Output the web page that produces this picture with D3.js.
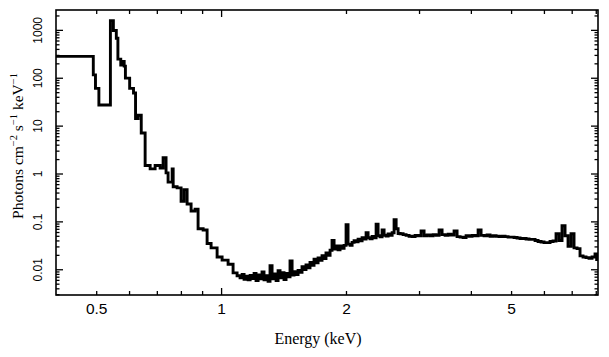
<!DOCTYPE html>
<html>
<head>
<meta charset="utf-8">
<script src="https://cdn.jsdelivr.net/npm/d3@7"></script>
<style>
  html, body { margin: 0; padding: 0; background: #fff; }
  svg { display: block; }
</style>
</head>
<body>
<svg id="chart" width="609" height="357"></svg>
<script>
// ---- Data ----
// Lower edge of each energy bin (keV)
const binLow = [
  0.400, 0.492, 0.498, 0.5075, 0.541, 0.550, 0.559, 0.564, 0.573, 0.578,
  0.584, 0.588, 0.602, 0.615, 0.622, 0.631, 0.642, 0.656, 0.6745, 0.6934,
  0.7129, 0.7248, 0.7368, 0.7451, 0.7622, 0.7665, 0.7834, 0.8009, 0.8144, 0.8281,
  0.8466, 0.8656, 0.8801, 0.9051, 0.9253, 0.946, 0.9781, 1.0056, 1.0396, 1.0688,
  1.0928, 1.111, 1.124, 1.136, 1.149, 1.162, 1.175, 1.188, 1.201, 1.214,
  1.228, 1.241, 1.255, 1.269, 1.283, 1.298, 1.312, 1.327, 1.342, 1.357,
  1.372, 1.387, 1.403, 1.418, 1.434, 1.450, 1.466, 1.483, 1.499, 1.516,
  1.533, 1.550, 1.567, 1.585, 1.602, 1.620, 1.638, 1.657, 1.675, 1.694,
  1.713, 1.732, 1.751, 1.771, 1.790, 1.810, 1.831, 1.851, 1.872, 1.893,
  1.914, 1.935, 1.957, 1.979, 2.001, 2.023, 2.046, 2.069, 2.092, 2.115,
  2.139, 2.163, 2.187, 2.211, 2.236, 2.261, 2.286, 2.312, 2.338, 2.364,
  2.390, 2.417, 2.444, 2.471, 2.499, 2.527, 2.555, 2.584, 2.612, 2.642,
  2.671, 2.701, 2.746, 2.792, 2.839, 2.886, 2.935, 2.984, 3.034, 3.085,
  3.137, 3.190, 3.243, 3.298, 3.353, 3.409, 3.467, 3.525, 3.584, 3.644,
  3.705, 3.768, 3.831, 3.895, 3.961, 4.027, 4.095, 4.164, 4.233, 4.304,
  4.377, 4.450, 4.525, 4.601, 4.678, 4.757, 4.836, 4.918, 5.000, 5.084,
  5.169, 5.256, 5.344, 5.434, 5.525, 5.618, 5.712, 5.808, 5.905, 6.004,
  6.105, 6.207, 6.311, 6.417, 6.525, 6.634, 6.746, 6.859, 6.974, 7.091,
  7.210, 7.331, 7.454, 7.579, 7.706, 7.836, 7.967, 8.040
];
// Photon flux in each bin (photons cm^-2 s^-1 keV^-1)
const flux = [
  280, 115, 60, 27, 1560, 970, 670, 245, 185, 220,
  175, 98, 60, 48, 14, 16.5, 7, 1.47, 1.25, 1.47,
  1.3, 2.13, 1.03, 0.66, 1.25, 0.53, 0.5, 0.264, 0.46, 0.23,
  0.165, 0.18, 0.07, 0.066, 0.0345, 0.028, 0.018, 0.0155, 0.0127, 0.0084,
  0.0073, 0.0066, 0.0078, 0.0062, 0.0072, 0.0060, 0.0074, 0.0064, 0.0082, 0.0058,
  0.0076, 0.0063, 0.0088, 0.0060, 0.0073, 0.0056, 0.0118, 0.0063, 0.0080, 0.0058,
  0.0093, 0.0066, 0.0085, 0.0061, 0.0082, 0.0070, 0.0150, 0.0076, 0.0089, 0.0078,
  0.0095, 0.0086, 0.0113, 0.0099, 0.0123, 0.0107, 0.0138, 0.0121, 0.0163, 0.0137,
  0.0173, 0.0154, 0.0193, 0.0168, 0.0218, 0.0196, 0.0250, 0.0400, 0.0265, 0.0305,
  0.0255, 0.0305, 0.0275, 0.0315, 0.0850, 0.0335, 0.0315, 0.0365, 0.0395, 0.0375,
  0.0425, 0.0395, 0.0455, 0.0425, 0.0580, 0.0455, 0.0435, 0.0485, 0.0455, 0.0870,
  0.0500, 0.0475, 0.0660, 0.0515, 0.0495, 0.0545, 0.0515, 0.0580, 0.1080, 0.0700,
  0.0560, 0.0550, 0.0530, 0.0510, 0.0490, 0.0480, 0.0510, 0.0500, 0.0630, 0.0500,
  0.0520, 0.0500, 0.0530, 0.0510, 0.0660, 0.0530, 0.0510, 0.0540, 0.0520, 0.0630,
  0.0480, 0.0470, 0.0460, 0.0500, 0.0490, 0.0510, 0.0500, 0.0660, 0.0510, 0.0500,
  0.0520, 0.0490, 0.0500, 0.0490, 0.0480, 0.0490, 0.0480, 0.0470, 0.0470, 0.0460,
  0.0450, 0.0440, 0.0440, 0.0430, 0.0420, 0.0420, 0.0400, 0.0380, 0.0370, 0.0360,
  0.0360, 0.0380, 0.0390, 0.0550, 0.0400, 0.0810, 0.0500, 0.0300, 0.0550, 0.0280,
  0.0270, 0.0190, 0.0180, 0.0175, 0.0170, 0.0180, 0.0210, 0.0160
];
const energyMax = 8.1;
const energyMin = 0.4;
const fluxMin = 0.0029, fluxMax = 2600;

const xTickLabels = [0.5, 1, 2, 5];
const xMajorTicks = [1];
const xMinorTicks = [0.5, 0.6, 0.7, 0.8, 0.9, 2, 3, 4, 5, 6, 7, 8];
const yTickLabels = [0.01, 0.1, 1, 10, 100, 1000];

// ---- Layout ----
const svg = d3.select("#chart");
const L = 56, R = 598, T = 10, B = 295;

const x = d3.scaleLog().domain([energyMin, energyMax]).range([L, R]);
const y = d3.scaleLog().domain([fluxMin, fluxMax]).range([B, T]);

// y minor ticks: 2..9 multiples of each decade in the domain
const yMinorTicks = [];
for (let p = -3; p <= 3; p++) {
  for (let m = 2; m <= 9; m++) {
    const v = m * Math.pow(10, p);
    if (v > fluxMin && v < fluxMax) yMinorTicks.push(v);
  }
}

const sansFont = "'Liberation Sans', Arial, Helvetica, sans-serif";
const serifFont = "'Liberation Serif', 'Times New Roman', serif";

const MAJ = 7, MIN = 4;

function styleTicks(g) {
  g.select(".domain").remove();
  g.selectAll(".tick line").attr("stroke", "#000").attr("stroke-width", 1.3);
  g.selectAll(".tick text").remove();
}

// bottom ticks (inward)
svg.append("g").attr("transform", `translate(0,${B})`)
  .call(d3.axisBottom(x).tickValues(xMajorTicks).tickSize(-MAJ).tickFormat(""))
  .call(styleTicks);
svg.append("g").attr("transform", `translate(0,${B})`)
  .call(d3.axisBottom(x).tickValues(xMinorTicks).tickSize(-MIN).tickFormat(""))
  .call(styleTicks);
// top ticks (inward)
svg.append("g").attr("transform", `translate(0,${T})`)
  .call(d3.axisTop(x).tickValues(xMajorTicks).tickSize(-MAJ).tickFormat(""))
  .call(styleTicks);
svg.append("g").attr("transform", `translate(0,${T})`)
  .call(d3.axisTop(x).tickValues(xMinorTicks).tickSize(-MIN).tickFormat(""))
  .call(styleTicks);
// left ticks
svg.append("g").attr("transform", `translate(${L},0)`)
  .call(d3.axisLeft(y).tickValues(yTickLabels).tickSize(-MAJ).tickFormat(""))
  .call(styleTicks);
svg.append("g").attr("transform", `translate(${L},0)`)
  .call(d3.axisLeft(y).tickValues(yMinorTicks).tickSize(-MIN + 0.5).tickFormat(""))
  .call(styleTicks);
// right ticks
svg.append("g").attr("transform", `translate(${R},0)`)
  .call(d3.axisRight(y).tickValues(yTickLabels).tickSize(-MAJ).tickFormat(""))
  .call(styleTicks);
svg.append("g").attr("transform", `translate(${R},0)`)
  .call(d3.axisRight(y).tickValues(yMinorTicks).tickSize(-MIN + 0.5).tickFormat(""))
  .call(styleTicks);

// x tick labels
const xl = svg.append("g").attr("transform", `translate(0,${B})`)
  .call(d3.axisBottom(x).tickValues(xTickLabels).tickSize(0).tickPadding(0)
    .tickFormat(d => String(d)));
xl.select(".domain").remove();
xl.selectAll(".tick text")
  .attr("y", 0).attr("dy", null)
  .attr("transform", "translate(0,18.5)")
  .attr("font-family", sansFont).attr("font-size", 15.5).attr("fill", "#000");

// y tick labels (rotated)
const yl = svg.append("g").attr("transform", `translate(${L},0)`)
  .call(d3.axisLeft(y).tickValues(yTickLabels).tickSize(0)
    .tickFormat(d => String(d)));
yl.select(".domain").remove();
yl.selectAll(".tick text")
  .attr("x", null).attr("dy", null).attr("y", null)
  .attr("text-anchor", "middle")
  .attr("transform", "translate(-14,0) rotate(-90)")
  .attr("font-family", sansFont).attr("font-size", 12).attr("fill", "#000");

// clip
svg.append("clipPath").attr("id", "plotclip")
  .append("rect").attr("x", L).attr("y", T).attr("width", R - L).attr("height", B - T);

// spectrum step line
const pts = binLow.map((e, i) => ({ e, f: flux[i] }));
pts.push({ e: energyMax, f: flux[flux.length - 1] });
const line = d3.line().x(d => x(d.e)).y(d => y(d.f)).curve(d3.curveStepAfter);
svg.append("path")
  .attr("clip-path", "url(#plotclip)")
  .attr("d", line(pts))
  .attr("fill", "none")
  .attr("stroke", "#000")
  .attr("stroke-width", 2.9)
  .attr("stroke-linejoin", "miter")
  .attr("stroke-linecap", "square");

// frame
svg.append("rect").attr("x", L).attr("y", T).attr("width", R - L).attr("height", B - T)
  .attr("fill", "none").attr("stroke", "#000").attr("stroke-width", 1.6);

// axis titles
svg.append("text")
  .attr("x", 318).attr("y", 344)
  .attr("text-anchor", "middle")
  .attr("font-family", serifFont).attr("font-size", 16).attr("fill", "#000")
  .text("Energy (keV)");

const yt = svg.append("text")
  .attr("transform", "translate(23,146) rotate(-90)")
  .attr("text-anchor", "middle")
  .attr("font-family", serifFont).attr("font-size", 15.5).attr("fill", "#000");
yt.append("tspan").text("Photons cm");
yt.append("tspan").attr("dy", -6).attr("font-size", 10.5).text("\u22122");
yt.append("tspan").attr("dy", 6).text(" s");
yt.append("tspan").attr("dy", -6).attr("font-size", 10.5).text("\u22121");
yt.append("tspan").attr("dy", 6).text(" keV");
yt.append("tspan").attr("dy", -6).attr("font-size", 10.5).text("\u22121");
</script>
</body>
</html>
